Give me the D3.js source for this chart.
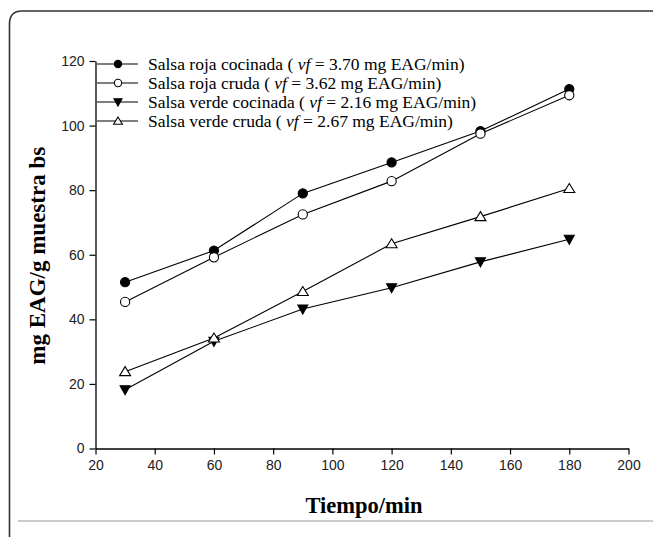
<!DOCTYPE html>
<html>
<head>
<meta charset="utf-8">
<script src="https://cdn.jsdelivr.net/npm/d3@7"></script>
<style>
body{margin:0;background:#fff}
</style>
</head>
<body>
<script>
var tiempo = [30, 60, 90, 120, 150, 180];
var rojaCocinada = [51.5, 61.3, 79, 88.6, 98.3, 111.3];
var rojaCruda = [45.4, 59.2, 72.5, 82.8, 97.5, 109.4];
var verdeCocinada = [18.2, 33.2, 43.2, 49.8, 57.8, 64.8];
var verdeCruda = [23.8, 34.2, 48.6, 63.4, 71.8, 80.5];
var seriesNames = [
  'Salsa roja cocinada',
  'Salsa roja cruda',
  'Salsa verde cocinada',
  'Salsa verde cruda'];
var vfValues = ['3.70', '3.62', '2.16', '2.67'];
var xTicks = [20, 40, 60, 80, 100, 120, 140, 160, 180, 200];
var yTicks = [0, 20, 40, 60, 80, 100, 120];

var params = {width:653, height:537, left:95.5, right:628.5, top:61, bottom:448.5}

var svg = d3.select('body').append('svg')
  .attr('width', params.width)
  .attr('height', params.height);

// frame round the figure
svg.append('path')
  .attr('d', 'M9.5,537 L9.5,24 Q9.5,11 22,11 L653,11')
  .style('fill', 'none').style('stroke', '#333').style('stroke-width', 1.6);
svg.append('line')
  .attr('x1', 18).attr('x2', 653).attr('y1', 521).attr('y2', 521)
  .style('stroke', '#bbb').style('stroke-width', 1.3);

var x = d3.scaleLinear().domain([20, 200]).range([params.left, params.right]);
var y = d3.scaleLinear().domain([0, 120]).range([params.bottom, params.top]);

var xAxis = svg.append('g')
  .attr('transform', 'translate(0,' + params.bottom + ')')
  .call(d3.axisBottom(x).tickValues(xTicks).tickSize(6).tickSizeOuter(0).tickPadding(6));
var yAxis = svg.append('g')
  .attr('transform', 'translate(' + params.left + ',0)')
  .call(d3.axisLeft(y).tickValues(yTicks).tickSize(6).tickSizeOuter(0).tickPadding(5));

[xAxis, yAxis].forEach(function(a){
  a.select('.domain').style('stroke', '#000').style('stroke-width', 1.3);
  a.selectAll('.tick line').style('stroke', '#000').style('stroke-width', 1.2);
  a.selectAll('.tick text')
    .style('font-family', '"Liberation Sans", Arial, sans-serif')
    .style('font-size', '14px')
    .style('fill', '#222');
});

svg.append('text')
  .attr('x', (params.left + params.right) / 2 + 2).attr('y', 513)
  .attr('text-anchor', 'middle')
  .style('font-family', '"Liberation Serif", "Times New Roman", serif')
  .style('font-weight', 'bold').style('font-size', '22.5px')
  .text('Tiempo/min');

svg.append('text')
  .attr('transform', 'translate(45,' + ((params.top + params.bottom) / 2 + 1) + ') rotate(-90)')
  .attr('text-anchor', 'middle')
  .style('font-family', '"Liberation Serif", "Times New Roman", serif')
  .style('font-weight', 'bold').style('font-size', '23px')
  .text('mg EAG/g muestra bs');

var seriesData = [rojaCocinada, rojaCruda, verdeCocinada, verdeCruda];
var markers = [
  {type: 'circle', fill: '#000'},
  {type: 'circle', fill: '#fff'},
  {type: 'down', fill: '#000'},
  {type: 'up', fill: '#fff'}
];

function drawMarker(g, m, k) {
  if (m.type === 'down') {
    g.append('path').attr('d', 'M' + (-5*k) + ',' + (-4*k) + ' L' + (5*k) + ',' + (-4*k) + ' L0,' + (5*k) + ' Z');
  } else if (m.type === 'up') {
    g.append('path').attr('d', 'M' + (-5.5*k) + ',' + (4*k) + ' L' + (5.5*k) + ',' + (4*k) + ' L0,' + (-5*k) + ' Z');
  } else {
    g.append('circle').attr('r', 4.6 * k);
  }
  g.select(':first-child').style('fill', m.fill).style('stroke', '#000').style('stroke-width', 1.1);
}

var line = d3.line()
  .x(function(d, i){ return x(tiempo[i]); })
  .y(function(d){ return y(d); });

seriesData.forEach(function(vals, s){
  svg.append('path')
    .datum(vals)
    .attr('d', line)
    .style('fill', 'none').style('stroke', '#000').style('stroke-width', 1.1);
});
seriesData.forEach(function(vals, s){
  vals.forEach(function(v, i){
    var g = svg.append('g').attr('transform', 'translate(' + x(tiempo[i]) + ',' + y(v) + ')');
    drawMarker(g, markers[s], 1);
  });
});

// legend
var legendRows = [64, 83, 102, 121];
seriesNames.forEach(function(name, s){
  var ly = legendRows[s];
  svg.append('line')
    .attr('x1', 97).attr('x2', 138).attr('y1', ly).attr('y2', ly)
    .style('stroke', '#000').style('stroke-width', 1.1);
  var g = svg.append('g').attr('transform', 'translate(118,' + ly + ')');
  drawMarker(g, markers[s], 0.8);
  var t = svg.append('text')
    .attr('x', 148).attr('y', ly + 5.5)
    .style('font-family', '"Liberation Serif", "Times New Roman", serif')
    .style('font-size', '17.5px').style('fill', '#000');
  t.append('tspan').text(name + ' ( ');
  t.append('tspan').style('font-style', 'italic').text('vf');
  t.append('tspan').text(' = ' + vfValues[s] + ' mg EAG/min)');
});
</script>
</body>
</html>
